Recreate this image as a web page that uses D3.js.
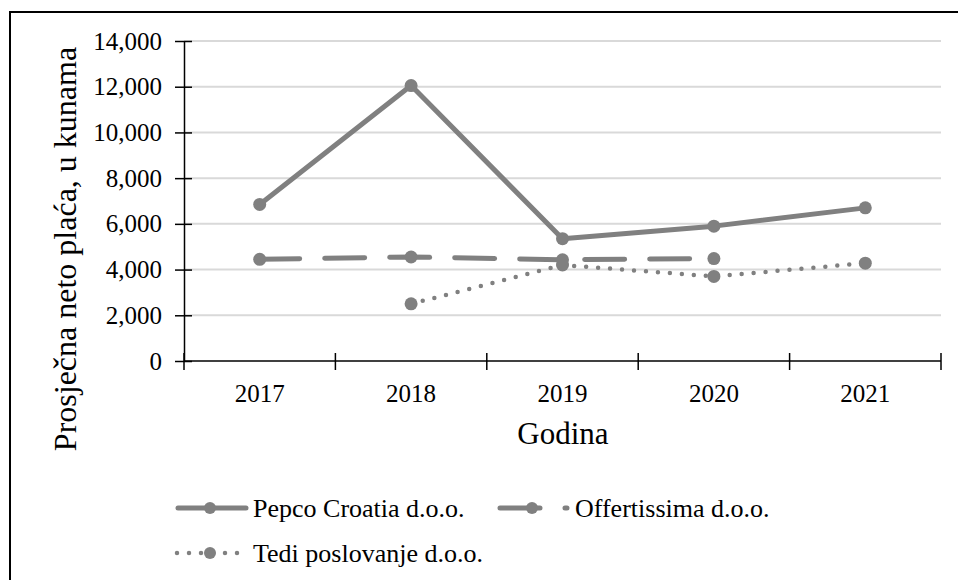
<!DOCTYPE html>
<html>
<head>
<meta charset="utf-8">
<script src="https://cdn.jsdelivr.net/npm/d3@7"></script>
</head>
<body style="margin:0;padding:0;background:#fff">
<svg id="chart" width="958" height="580" style="display:block"></svg>
<script>
const years = ["2017", "2018", "2019", "2020", "2021"];
const pepco = [6850, 12050, 5350, 5900, 6700];
const offertissima = [4450, 4550, 4430, 4480, null];
const tedi = [null, 2500, 4200, 3700, 4280];
const yTicks = [0, 2000, 4000, 6000, 8000, 10000, 12000, 14000];
const seriesNames = ["Pepco Croatia d.o.o.", "Offertissima d.o.o.", "Tedi poslovanje d.o.o."];

const FONT = '"Liberation Serif"';
const svg = d3.select("#chart");
const grey = "#808080";

// outer border
svg.append("rect").attr("x", 10).attr("y", 12).attr("width", 960).attr("height", 600)
  .attr("fill", "none").attr("stroke", "#000").attr("stroke-width", 2);

const x = d3.scaleBand().domain(years).range([184, 941]);
const y = d3.scaleLinear().domain([0, 14000]).range([361, 41]);
const cx = d => x(d) + x.bandwidth() / 2;

// gridlines
svg.append("g").selectAll("line").data(yTicks.filter(t => t > 0)).join("line")
  .attr("x1", 184).attr("x2", 941)
  .attr("y1", d => y(d)).attr("y2", d => y(d))
  .attr("stroke", "#d9d9d9").attr("stroke-width", 2);

// y axis
const yAxis = d3.axisLeft(y).tickValues(yTicks).tickFormat(d3.format(",")).tickSize(0).tickPadding(22);
const gy = svg.append("g").attr("transform", "translate(184,0)").call(yAxis);
gy.select(".domain").attr("stroke", "#000").attr("stroke-width", 1.5);
gy.selectAll("text").style("font-size", "25px").style("font-family", FONT).style("fill", "#000");
gy.selectAll(".tick").append("line").attr("x1", -9).attr("x2", 8).attr("stroke", "#000").attr("stroke-width", 1.5);

// x axis
const bounds = years.map(d => x(d)).concat([x(years[years.length - 1]) + x.bandwidth()]);
svg.append("line").attr("x1", 184).attr("x2", 941).attr("y1", 361).attr("y2", 361)
  .attr("stroke", "#000").attr("stroke-width", 1.5);
svg.append("g").selectAll("line").data(bounds).join("line")
  .attr("x1", d => d).attr("x2", d => d).attr("y1", 353).attr("y2", 370)
  .attr("stroke", "#000").attr("stroke-width", 1.5);
svg.append("g").selectAll("text").data(years).join("text")
  .attr("x", d => cx(d)).attr("y", 402).attr("text-anchor", "middle")
  .style("font-size", "25px").style("font-family", FONT).text(d => d);

// axis titles
svg.append("text").attr("x", 563).attr("y", 444).attr("text-anchor", "middle")
  .style("font-size", "31px").style("font-family", FONT).text("Godina");
svg.append("text").attr("transform", "translate(76,249) rotate(-90)").attr("text-anchor", "middle")
  .style("font-size", "32px").style("font-family", FONT).text("Prosječna neto plaća, u kunama");

// series
const styles = [
  { data: pepco, dash: null, width: 5 },
  { data: offertissima, dash: "40 25", width: 5 },
  { data: tedi, dash: "0 12", width: 4.5 }
];
const line = d3.line().defined(d => d.v != null).x(d => cx(d.k)).y(d => y(d.v));
styles.forEach(s => {
  const pts = years.map((k, i) => ({ k, v: s.data[i] }));
  svg.append("path").datum(pts).attr("d", line)
    .attr("fill", "none").attr("stroke", grey).attr("stroke-width", s.width)
    .attr("stroke-linecap", "round").attr("stroke-linejoin", "round")
    .attr("stroke-dasharray", s.dash);
  svg.append("g").selectAll("circle").data(pts.filter(p => p.v != null)).join("circle")
    .attr("cx", p => cx(p.k)).attr("cy", p => y(p.v)).attr("r", 6.5).attr("fill", grey);
});

// legend
const legend = [
  { x1: 178, x2: 246, m: 210, tx: 253, ty: 508 },
  { x1: 500, x2: 567, m: 532, tx: 575, ty: 508 },
  { x1: 177, x2: 238, m: 210, tx: 253, ty: 553 }
];
legend.forEach((l, i) => {
  const s = styles[i];
  svg.append("line").attr("x1", l.x1).attr("x2", l.x2).attr("y1", l.ty).attr("y2", l.ty)
    .attr("stroke", grey).attr("stroke-width", s.width).attr("stroke-linecap", "round")
    .attr("stroke-dasharray", s.dash);
  svg.append("circle").attr("cx", l.m).attr("cy", l.ty).attr("r", 6).attr("fill", grey);
  svg.append("text").attr("x", l.tx).attr("y", l.ty).attr("dy", "0.33em")
    .style("font-size", "26px").style("font-family", FONT).text(seriesNames[i]);
});
</script>
</body>
</html>
